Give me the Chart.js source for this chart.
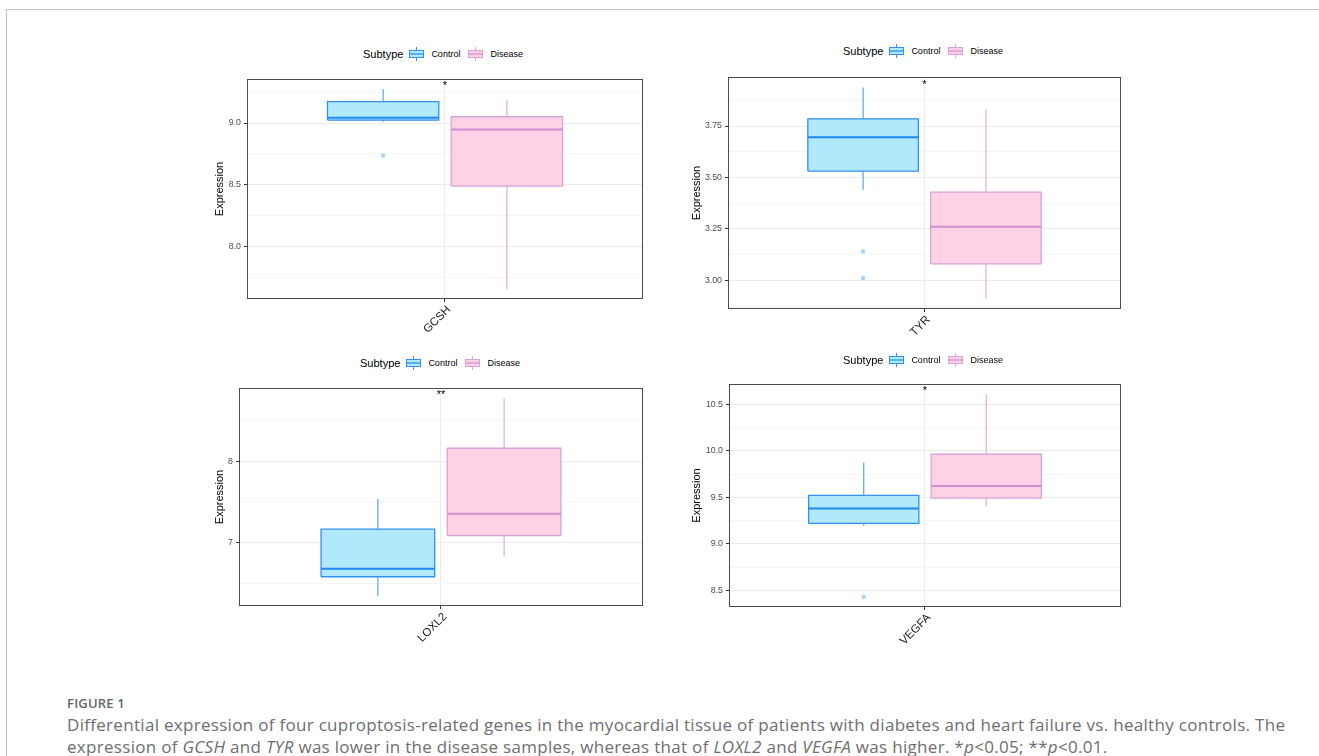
<!DOCTYPE html>
<html>
<head>
<meta charset="utf-8">
<script src="https://cdn.jsdelivr.net/npm/chart.js@4.4.1/dist/chart.umd.min.js"></script>
<style>
  html, body { margin: 0; padding: 0; background: #fff; }
  body { width: 1319px; height: 756px; position: relative; overflow: hidden;
         font-family: "Liberation Sans", Arial, sans-serif; }
  .frame { position: absolute; left: 6px; top: 9px; right: 0; bottom: 0;
           border-left: 1px solid #c6c6c6; border-top: 1px solid #c6c6c6; }
  canvas { position: absolute; }
  .legend { position: absolute; height: 14px; display: flex; align-items: center;
            white-space: nowrap; color: #000; }
  .legend .ttl { font-size: 11px; margin-right: 6px; }
  .legend .lab { font-size: 9px; margin-left: 7px; margin-right: 8px; }
  .legend svg { display: block; }
  .figno { position: absolute; left: 67px; top: 694px; font: 600 13px "Open Sans", sans-serif;
           color: #666; letter-spacing: 0.2px; }
  .cap { position: absolute; left: 67px; top: 714px; font: 17px/22px "Open Sans", sans-serif;
         color: #6e6e6e; white-space: nowrap; letter-spacing: 0.3px; }
</style>
</head>
<body>
<div class="frame"></div>
<div id="charts"></div>
<div class="figno">FIGURE 1</div>
<div class="cap">Differential expression of four cuproptosis-related genes in the myocardial tissue of patients with diabetes and heart failure vs. healthy controls. The<br>expression of <i>GCSH</i> and <i>TYR</i> was lower in the disease samples, whereas that of <i>LOXL2</i> and <i>VEGFA</i> was higher. *<i>p</i>&lt;0.05; **<i>p</i>&lt;0.01.</div>

<script>
// ---- data -------------------------------------------------------------
const genes = ['GCSH', 'TYR', 'LOXL2', 'VEGFA'];
const groups = ['Control', 'Disease'];

// box statistics per gene: lower whisker, Q1, median, Q3, upper whisker
const controlLow    = [9.010, 3.440, 6.340, 9.195];
const controlQ1     = [9.024, 3.531, 6.578, 9.220];
const controlMedian = [9.043, 3.695, 6.676, 9.381];
const controlQ3     = [9.173, 3.785, 7.164, 9.522];
const controlHigh   = [9.276, 3.937, 7.538, 9.874];
const controlOutliers = [[8.737], [3.140, 3.011], [], [8.429]];

const diseaseLow    = [7.655, 2.912, 6.832, 9.403];
const diseaseQ1     = [8.488, 3.080, 7.086, 9.492];
const diseaseMedian = [8.948, 3.261, 7.353, 9.622];
const diseaseQ3     = [9.051, 3.429, 8.160, 9.964];
const diseaseHigh   = [9.184, 3.829, 8.780, 10.611];
const diseaseOutliers = [[], [], [], []];

const significance = ['*', '*', '**', '*'];

const yTickLabels = [
  ['8.0', '8.5', '9.0'],
  ['3.00', '3.25', '3.50', '3.75'],
  ['7', '8'],
  ['8.5', '9.0', '9.5', '10.0', '10.5']
];

// ---- layout & style -----------------------------------------------------
const panels = [
  { left: 247, top: 79,  right: 643,  bottom: 299, titleX: 220, legendX: 363, legendY: 54 },
  { left: 728, top: 77,  right: 1121, bottom: 309, titleX: 697, legendX: 843, legendY: 51 },
  { left: 239, top: 388, right: 643,  bottom: 606, titleX: 220, legendX: 360, legendY: 363 },
  { left: 729, top: 384, right: 1121, bottom: 607, titleX: 697, legendX: 843, legendY: 360 }
];

const groupStyle = {
  Control: { fill: '#b1e9fc', stroke: '#3391f2', median: '#2088ee', whisker: '#4a9cf0', outlier: '#a9d3fb' },
  Disease: { fill: '#ffd1e6', stroke: '#d9a4d9', median: '#cf90cf', whisker: '#d7a9d8', outlier: '#e8bde6' }
};

const FONT = '"Liberation Sans", Arial, sans-serif';
Chart.defaults.font.family = FONT;

const EXPAND = 0.6;        // discrete axis expansion on each side
const DODGE = 0.75;        // width shared by the two boxes
const BOX_FRAC = 0.9;      // box width inside its slot
const slot = DODGE / 2;
const halfBox = slot * BOX_FRAC / 2;
const CENTER = 1;

const PAD = 12, XAXIS_H = 48;

function glyph(st) {
  return `<svg width="15" height="14" viewBox="0 0 15 14">
    <line x1="7.5" y1="0" x2="7.5" y2="3.5" stroke="${st.stroke}" stroke-width="1"/>
    <line x1="7.5" y1="10.5" x2="7.5" y2="14" stroke="${st.stroke}" stroke-width="1"/>
    <rect x="0.5" y="3.5" width="14" height="7" fill="${st.fill}" stroke="${st.stroke}" stroke-width="1"/>
    <line x1="0.5" y1="7" x2="14.5" y2="7" stroke="${st.median}" stroke-width="1.2"/>
  </svg>`;
}

// panel frame and significance mark
const panelDecor = {
  id: 'panelDecor',
  afterDraw(chart, args, opts) {
    const { ctx, chartArea: a, scales } = chart;
    ctx.save();
    ctx.font = '11px ' + FONT;
    ctx.fillStyle = '#000';
    ctx.textAlign = 'center';
    ctx.textBaseline = 'alphabetic';
    ctx.fillText(opts.label, scales.x.getPixelForValue(opts.x), scales.y.getPixelForValue(opts.y));
    ctx.strokeStyle = '#4a4a4a';
    ctx.lineWidth = 1;
    ctx.strokeRect(Math.round(a.left) + 0.5, Math.round(a.top) + 0.5,
                   Math.round(a.right - a.left) - 1, Math.round(a.bottom - a.top) - 1);
    ctx.restore();
  }
};

const host = document.getElementById('charts');

genes.forEach((gene, i) => {
  const p = panels[i];
  const boxes = [
    { name: 'Control', low: controlLow[i], q1: controlQ1[i], med: controlMedian[i], q3: controlQ3[i], high: controlHigh[i], out: controlOutliers[i] },
    { name: 'Disease', low: diseaseLow[i], q1: diseaseQ1[i], med: diseaseMedian[i], q3: diseaseQ3[i], high: diseaseHigh[i], out: diseaseOutliers[i] }
  ];

  const allVals = boxes.flatMap(b => [b.low, b.high, ...b.out]);
  const lo = Math.min(...allVals), hi = Math.max(...allVals);
  const ext = (hi - lo) * 0.05;

  const majors = yTickLabels[i].map(Number);
  const half = (majors[1] - majors[0]) / 2;
  const isMajor = v => majors.some(m => Math.abs(m - v) < 1e-9);

  // canvas geometry
  const cx = p.titleX - 10, cy = p.top - PAD;
  const cw = p.right + PAD - cx, ch = p.bottom + XAXIS_H - cy;
  const canvas = document.createElement('canvas');
  canvas.width = cw; canvas.height = ch;
  canvas.style.left = cx + 'px'; canvas.style.top = cy + 'px';
  canvas.style.width = cw + 'px'; canvas.style.height = ch + 'px';
  host.appendChild(canvas);

  // legend
  const leg = document.createElement('div');
  leg.className = 'legend';
  leg.style.left = p.legendX + 'px';
  leg.style.top = (p.legendY - 7) + 'px';
  leg.innerHTML = '<span class="ttl">Subtype</span>' +
    groups.map(g => glyph(groupStyle[g]) + `<span class="lab">${g}</span>`).join('');
  host.appendChild(leg);

  // datasets: drawn bottom-up (higher order first)
  const datasets = [];
  boxes.forEach((b, k) => {
    const st = groupStyle[b.name];
    const xc = CENTER + (k === 0 ? -slot / 2 : slot / 2);
    const x0 = xc - halfBox, x1 = xc + halfBox;
    // box (Q1..Q3)
    datasets.push({
      label: b.name, order: 5,
      data: [{ x: x0, y: b.q1 }, { x: x1, y: b.q1 }, { x: x1, y: b.q3 }, { x: x0, y: b.q3 }, { x: x0, y: b.q1 }],
      borderColor: st.stroke, backgroundColor: st.fill, borderWidth: 1.3,
      fill: 'shape', pointRadius: 0, borderJoinStyle: 'miter'
    });
    // whiskers
    datasets.push({
      order: 4,
      data: [{ x: xc, y: b.q3 }, { x: xc, y: b.high }],
      borderColor: st.whisker, borderWidth: 1.1, pointRadius: 0, fill: false
    });
    datasets.push({
      order: 4,
      data: [{ x: xc, y: b.low }, { x: xc, y: b.q1 }],
      borderColor: st.whisker, borderWidth: 1.1, pointRadius: 0, fill: false
    });
    // median
    datasets.push({
      order: 1,
      data: [{ x: x0, y: b.med }, { x: x1, y: b.med }],
      borderColor: st.median, borderWidth: 2, pointRadius: 0, fill: false
    });
    // outliers
    if (b.out.length) {
      datasets.push({
        order: 2, showLine: false,
        data: b.out.map(v => ({ x: xc, y: v })),
        pointRadius: 2.2, pointBackgroundColor: st.outlier, pointBorderWidth: 0
      });
    }
  });

  new Chart(canvas, {
    type: 'line',
    data: { datasets },
    options: {
      responsive: false,
      animation: false,
      events: [],
      devicePixelRatio: 1,
      layout: { padding: { top: PAD, right: PAD, left: 0, bottom: 0 } },
      plugins: {
        legend: { display: false },
        tooltip: { enabled: false },
        panelDecor: { label: significance[i], x: CENTER, y: hi }
      },
      scales: {
        x: {
          type: 'linear', position: 'bottom', offset: false,
          min: CENTER - EXPAND, max: CENTER + EXPAND,
          afterBuildTicks: s => { s.ticks = [{ value: CENTER }]; },
          grid: { display: true, offset: false, color: '#ebebeb', lineWidth: 1,
                  drawTicks: true, tickLength: 3, tickColor: '#333', tickWidth: 1 },
          border: { display: false },
          ticks: { minRotation: 45, maxRotation: 45, autoSkip: false, padding: 1,
                   labelOffset: 4, color: '#1a1a1a', font: { size: 11.5 }, callback: () => gene },
          afterFit: s => { s.height = XAXIS_H; }
        },
        y: {
          type: 'linear', min: lo - ext, max: hi + ext,
          afterBuildTicks: s => {
            const t = [];
            for (let k = -20; k <= 40; k++) {
              const v = majors[0] + k * half;
              if (v >= s.min - 1e-9 && v <= s.max + 1e-9) t.push({ value: v });
            }
            s.ticks = t;
          },
          afterFit: s => { s.width = p.left - cx; },
          grid: {
            color: c => (c.tick && isMajor(c.tick.value)) ? '#ebebeb' : '#f5f5f5',
            lineWidth: 1, drawTicks: true, tickLength: 3, tickWidth: 1,
            tickColor: c => (c.tick && isMajor(c.tick.value)) ? '#333' : 'rgba(0,0,0,0)'
          },
          border: { display: false },
          ticks: {
            autoSkip: false, padding: 3, color: '#4d4d4d', font: { size: 8.8 },
            callback: v => {
              const idx = majors.findIndex(m => Math.abs(m - v) < 1e-9);
              return idx >= 0 ? yTickLabels[i][idx] : '';
            }
          },
          title: { display: true, text: 'Expression', color: '#000',
                   font: { size: 11, lineHeight: 1.2 }, padding: { top: 3.4, bottom: 0 } }
        }
      }
    },
    plugins: [panelDecor]
  });
});
</script>
</body>
</html>
